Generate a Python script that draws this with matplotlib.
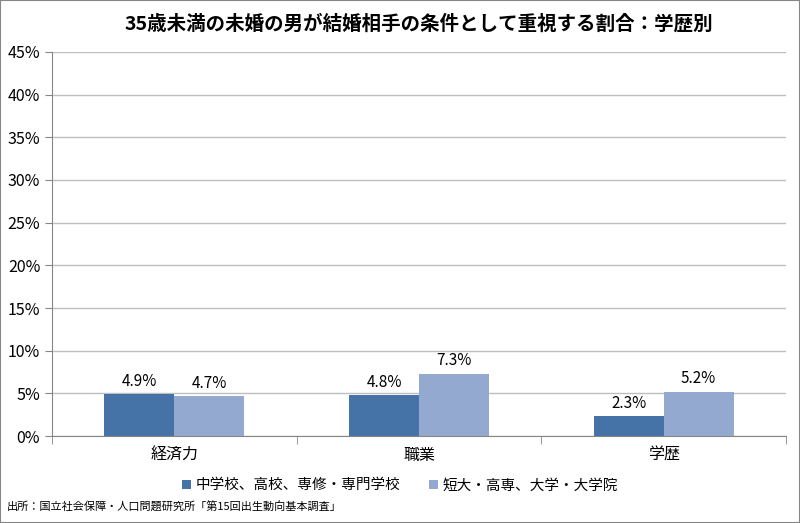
import numpy as np
import matplotlib.pyplot as plt
from matplotlib.ticker import FixedLocator, PercentFormatter

plt.rcParams['font.family'] = ['Noto Sans CJK JP', 'DejaVu Sans']

categories = ["経済力", "職業", "学歴"]
series_names = ["中学校、高校、専修・専門学校", "短大・高専、大学・大学院"]
low_edu = [4.9, 4.8, 2.3]
high_edu = [4.7, 7.3, 5.2]
colors = ["#4572A7", "#93A9CF"]

fig = plt.figure(figsize=(8, 5.23), dpi=100)
ax = fig.add_axes([0.065, 0.1663, 0.9175, 0.7343])

x = np.arange(len(categories))
w = 0.2857
b1 = ax.bar(x - w / 2, low_edu, w, color=colors[0], label=series_names[0])
b2 = ax.bar(x + w / 2, high_edu, w, color=colors[1], label=series_names[1])

for bars, vals in ((b1, low_edu), (b2, high_edu)):
    for rect, v in zip(bars, vals):
        ax.text(rect.get_x() + rect.get_width() / 2, v + 0.5, f"{v:.1f}%",
                ha="center", va="bottom", fontsize=11)

ax.set_xlim(-0.5, len(categories) - 0.5)
ax.set_ylim(0, 45)
ax.set_yticks(np.arange(0, 46, 5))
ax.yaxis.set_major_formatter(PercentFormatter(decimals=0))
ax.grid(axis="y", color="#BEBEBE", linewidth=1)
ax.set_axisbelow(True)

ax.set_xticks(x)
ax.set_xticklabels(categories, fontsize=11.5)
ax.xaxis.set_minor_locator(FixedLocator(np.arange(-0.5, len(categories), 1)))
ax.tick_params(axis="x", which="major", length=0, pad=8)
ax.tick_params(axis="x", which="minor", length=6, color="#868686")
ax.tick_params(axis="y", length=5, color="#868686", labelsize=11.5)

for s in ("top", "right"):
    ax.spines[s].set_visible(False)
ax.spines["left"].set_color("#868686")
ax.spines["bottom"].set_color("#868686")

ax.set_title("35歳未満の未婚の男が結婚相手の条件として重視する割合：学歴別",
             fontsize=14, fontweight="bold", pad=16)

fig.legend(handles=[b1, b2], loc="center", bbox_to_anchor=(0.5, 0.072),
           ncol=2, frameon=False, fontsize=10.5, handlelength=0.6,
           handleheight=0.6, handletextpad=0.3, columnspacing=2.0)

fig.text(0.008, 0.02, "出所：国立社会保障・人口問題研究所「第15回出生動向基本調査」",
         fontsize=8, ha="left", va="bottom")

fig.patches.append(plt.Rectangle((0, 0), 1, 1, transform=fig.transFigure,
                                 fill=False, edgecolor="#868686", linewidth=1.5))

fig.savefig("out.png", dpi=100)
